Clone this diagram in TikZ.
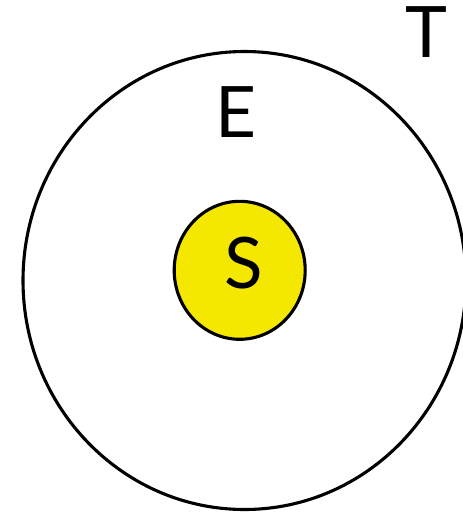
\documentclass[tikz,border=0pt]{standalone}
\usepackage{fontspec}
\setmainfont{Lato}
\usetikzlibrary{shapes.geometric}
\tikzset{
  ring/.style={ellipse, draw=black, line width=3.1pt, inner sep=0pt},
  lbl/.style={inner sep=0pt, anchor=base, font=\fontsize{71}{71}\selectfont}
}
\begin{document}
\begin{tikzpicture}[x=1pt,y=1pt]
\useasboundingbox (0,0) rectangle (463,-512);
\node[ring, minimum width=443pt, minimum height=458pt] (E) at (244.5,-280.5) {};
\node[ring, fill={rgb,255:red,245;green,232;blue,0}, minimum width=131pt, minimum height=138pt] (S) at (239.7,-270.3) {};
\node[lbl] (lS) at (243.5,-288.5) {S};
\node[lbl] (lE) at (236,-137) {E};
\node[lbl] (lT) at (426.5,-57) {T};
\end{tikzpicture}
\end{document}
